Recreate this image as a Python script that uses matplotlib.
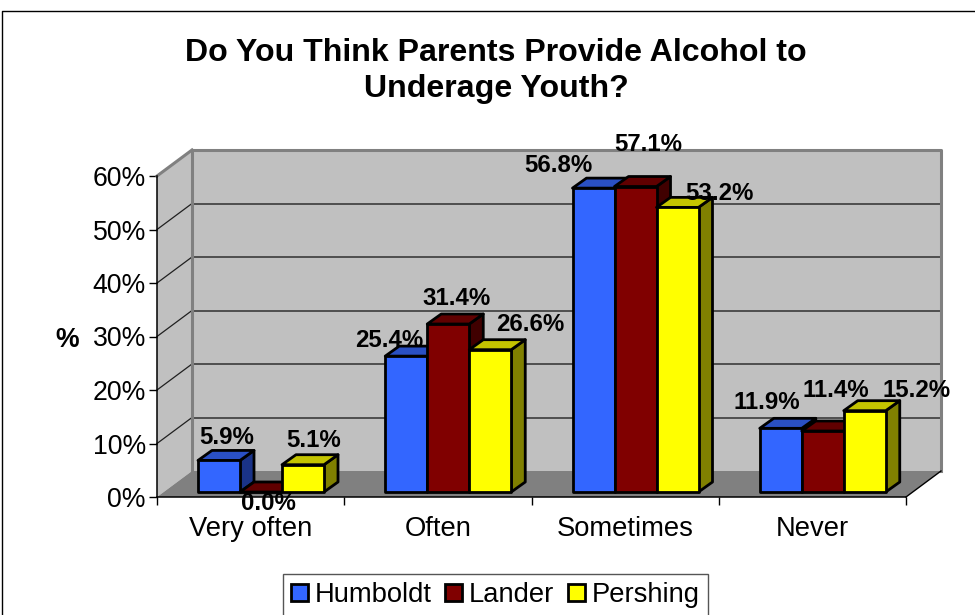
import matplotlib.pyplot as plt
from matplotlib.patches import Patch, Polygon
from matplotlib.lines import Line2D

plt.rcParams['font.family'] = ['Liberation Sans', 'DejaVu Sans']

categories = ["Very often", "Often", "Sometimes", "Never"]
series = ["Humboldt", "Lander", "Pershing"]
humboldt = [5.9, 25.4, 56.8, 11.9]
lander = [0.0, 31.4, 57.1, 11.4]
pershing = [5.1, 26.6, 53.2, 15.2]
yticks = [0, 10, 20, 30, 40, 50, 60]

front_col = ["#3366FF", "#800000", "#FFFF00"]
top_col = ["#2A50C4", "#600000", "#C4C400"]
side_col = ["#1A3388", "#400000", "#808000"]

# label nudges in pixels from the bar top, same order as the series
label_off = [
    [(8, 23), (-17, 16), (-35, 23), (-14, 26)],
    [(7, -11), (8, 26), (13, 42), (13, 41)],
    [(11, 24), (40, 25), (42, 14), (52, 20)],
]

W, H = 975, 615
L, R, B, T = 157, 906, 497, 176   # front plane in pixels
fig = plt.figure(figsize=(W / 100, H / 100), dpi=100)
ax = fig.add_axes([L / W, 1 - B / H, (R - L) / W, (B - T) / H])
ax.set_xlim(0, 4)
ax.set_ylim(0, 60)
ax.patch.set_visible(False)

px = 4 / (R - L)      # x data units per pixel
py = 60 / (B - T)     # y data units per pixel
dx, dy = 35 * px, 26 * py   # depth of the box


def poly(pts, fc, ec="none", lw=0, z=1):
    ax.add_patch(Polygon(pts, closed=True, facecolor=fc, edgecolor=ec, linewidth=lw,
                         zorder=z, clip_on=False, joinstyle="round"))


# walls and floor
poly([(dx, dy), (4 + dx, dy), (4 + dx, 60 + dy), (dx, 60 + dy)], "#C0C0C0")
poly([(0, 0), (dx, dy), (dx, 60 + dy), (0, 60)], "#C0C0C0")
poly([(0, 0), (4, 0), (4 + dx, dy), (dx, dy)], "#808080")
for v in yticks[1:-1]:
    ax.plot([dx, 4 + dx], [v + dy, v + dy], color="#303030", lw=1.1, zorder=1.5, clip_on=False)
    ax.plot([0, dx], [v, v + dy], color="#202020", lw=0.9, zorder=1.5, clip_on=False)
gray = dict(color="#808080", lw=2.2, zorder=1.6, clip_on=False, solid_capstyle="projecting")
ax.plot([dx, dx], [dy, 60 + dy], **gray)
ax.plot([dx, 4 + dx, 4 + dx], [60 + dy, 60 + dy, dy], **gray)
ax.plot([0, dx], [60, 60 + dy], **gray)
ax.plot([4, 4 + dx], [0, dy], color="black", lw=1.0, zorder=1.6, clip_on=False)

# bars
bw = 42 * px
bar_dx, bar_dy = 14 * px, 10 * py
x0 = 41 * px
y0 = 5 * py
for j, vals in enumerate([humboldt, lander, pershing]):
    for i, v in enumerate(vals):
        x = i + x0 + j * bw
        top = y0 + v
        poly([(x + bw, y0), (x + bw + bar_dx, y0 + bar_dy), (x + bw + bar_dx, top + bar_dy), (x + bw, top)],
             side_col[j], "black", 2, z=2 + i + j * 0.1)
        poly([(x, top), (x + bw, top), (x + bw + bar_dx, top + bar_dy), (x + bar_dx, top + bar_dy)],
             top_col[j], "black", 2, z=2 + i + j * 0.1)
        poly([(x, y0), (x + bw, y0), (x + bw, top), (x, top)],
             front_col[j], "black", 2, z=2 + i + j * 0.1)
        ax.annotate(f"{v:.1f}%", (x + bw / 2, top), xytext=label_off[j][i], textcoords="offset pixels",
                    ha="center", va="center", fontsize=17.3, fontweight="bold", zorder=10,
                    annotation_clip=False)

# axes
ax.spines["top"].set_visible(False)
ax.spines["right"].set_visible(False)
ax.spines["left"].set_linewidth(1.1)
ax.spines["bottom"].set_linewidth(1.1)
ax.spines["left"].set_zorder(1.7)
ax.spines["bottom"].set_zorder(1.7)
ax.set_yticks(yticks)
ax.set_yticklabels([f"{v}%" for v in yticks], fontsize=19.2)
ax.set_xticks(range(5))
ax.set_xticklabels([])
ax.set_xticks([i + 0.5 for i in range(4)], minor=True)
ax.set_xticklabels(categories, minor=True, fontsize=19.7)
ax.tick_params(axis="x", which="minor", length=0, pad=14)
ax.tick_params(axis="x", which="major", length=6, width=1, direction="out")
ax.tick_params(axis="y", length=6, width=1, direction="out", pad=2)

fig.text(67 / W, 1 - 340 / H, "%", fontsize=19.2, fontweight="bold", ha="center", va="center")
fig.text(496 / W, 1 - 71 / H, "Do You Think Parents Provide Alcohol to\nUnderage Youth?", fontsize=23.1,
         fontweight="bold", ha="center", va="center", linespacing=1.27)

# chart border, only top and left are in frame
fig.add_artist(Line2D([1.5 / W, 1.5 / W, 1], [0, 1 - 10.5 / H, 1 - 10.5 / H], color="black", lw=1))

handles = [Patch(facecolor=c, edgecolor="black", linewidth=2) for c in front_col]
leg = fig.legend(handles, series, ncol=3, loc="upper left", bbox_to_anchor=(283 / W, 1 - 574 / H),
                 borderaxespad=0, fontsize=19.7, frameon=True, fancybox=False, edgecolor="#555555",
                 framealpha=1, handlelength=0.62, handleheight=0.62, handletextpad=0.24,
                 columnspacing=0.5, borderpad=0.3)
leg.get_frame().set_linewidth(1)

fig.savefig("out.png", dpi=100)
